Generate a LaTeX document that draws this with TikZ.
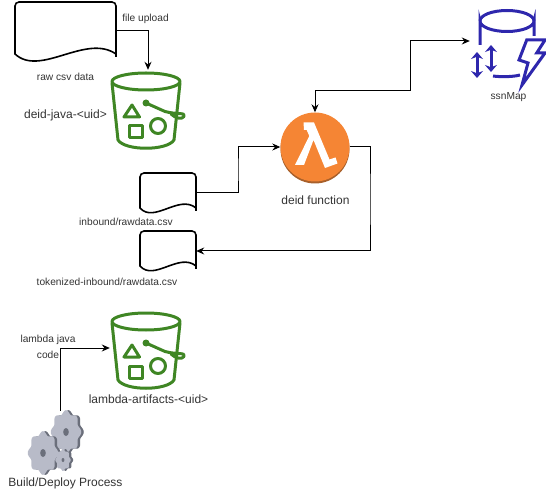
\documentclass[tikz,border=0pt]{standalone}
\usepackage{xcolor}
\usepackage{fontspec}
\setmainfont{Liberation Sans}
\usetikzlibrary{arrows.meta, positioning, calc}
\definecolor{bucketgreen}{HTML}{3F8624}
\definecolor{lambdaorange}{HTML}{F58534}
\definecolor{lambdashade}{HTML}{A8602B}
\definecolor{dynablue}{HTML}{2E27AD}
\definecolor{gearbody}{HTML}{B8BBC8}
\definecolor{gearedge}{HTML}{6B6F7B}
\definecolor{labelgray}{HTML}{333333}
\tikzset{
  iconbox/.style={rectangle, inner sep=0pt},
  flowline/.style={draw=black, line width=1pt, -{Stealth[length=8pt,width=7pt]}},
  sheetline/.style={draw=black, line width=1.6pt, fill=white, rounded corners=4pt},
  bucketline/.style={draw=bucketgreen, line width=3pt, line cap=round, line join=round},
  dynaline/.style={draw=dynablue, line width=3pt},
  smalltext/.style={text=labelgray, font=\fontsize{10.2}{12}\selectfont},
  bigtext/.style={text=labelgray, font=\fontsize{12}{14}\selectfont}
}
% left, top, width, height of a sheet
\newcommand{\drawsheet}[4]{%
  \pgfmathsetmacro{\sheetr}{#1+#3}
  \pgfmathsetmacro{\sheetb}{#2+#4}
  \pgfmathsetmacro{\sheetbb}{#2+#4-1}
  \pgfmathsetmacro{\sheeta}{#1+#3*0.25}
  \pgfmathsetmacro{\sheetc}{#1+#3*0.7}
  \pgfmathsetmacro{\sheetdn}{#2+#4*1.45}
  \pgfmathsetmacro{\sheetup}{#2+#4*0.6}
  \path[sheetline] (#1,\sheetb) -- (#1,#2) -- (\sheetr,#2) -- (\sheetr,\sheetbb) [sharp corners] -- (\sheetr,\sheetb)
    .. controls (\sheetc,\sheetup) and (\sheeta,\sheetdn) .. (#1,\sheetb) -- cycle;
}
\begin{document}
\begin{tikzpicture}[x=1pt, y=-1pt]
    \useasboundingbox (0,0) rectangle (546,494);
    % Nodes that hold the icons
    \node[iconbox, minimum width=101pt, minimum height=60pt] (rawcsv) at (65.5,31) {};
    \node[iconbox, minimum width=76pt, minimum height=76pt] (deidbucket) at (148,108) {};
    \node[iconbox, minimum width=76pt, minimum height=76pt] (artifactbucket) at (148,348) {};
    \node[iconbox, minimum width=56pt, minimum height=40pt] (inbound) at (168,193) {};
    \node[iconbox, minimum width=56pt, minimum height=40pt] (tokenized) at (168,251) {};
    \node[iconbox, minimum width=76pt, minimum height=40pt] (ssnmap) at (508,41) {};
    \node[iconbox, minimum width=60pt, minimum height=72pt] (gears) at (60,447) {};
    % Sheets
    \drawsheet{15}{2}{101}{52}
    \drawsheet{140}{173}{56}{35}
    \drawsheet{140}{231}{56}{35}
    % Buckets
    \foreach \by in {0,240} {
      \begin{scope}[shift={(0,\by)}]
        \draw[bucketline] (146,81.5) ellipse (34 and 8.5);
        \draw[bucketline] (112,83) -- (118,140) .. controls (125,151) and (167,151) .. (174,140) -- (180,83);
        \fill[bucketgreen] (146,103) circle (3.5);
        \draw[bucketline] (146,103) -- (165,111.5) .. controls (178,115) and (186,112) .. (184,116.5)
          .. controls (182,120) and (175,118) .. (171,114);
        \draw[bucketline] (132,105) -- (124,117) -- (139.5,117) -- cycle;
        \draw[bucketline] (129,126) rectangle (142,138);
        \draw[bucketline] (158,126) circle (7.5);
      \end{scope}
    }
    % Lambda
    \fill[lambdashade] (315,149) circle (34.5);
    \node[circle, fill=lambdaorange, inner sep=0pt, minimum size=69pt] (deidfn) at (315,147) {};
    \fill[white] (303.5,122.5) -- (314,122.5) -- (329.5,159.5) -- (335.5,157.5) -- (337.5,163.5)
      -- (325,168) -- (313.5,140) -- (304,165) -- (295,165) -- (309.3,136) -- (306.7,130) -- (304,130) -- cycle;
    % ssnMap icon
    \draw[dynaline] (480,45) -- (480,21) arc[start angle=180, end angle=0, x radius=27, y radius=10.5]
      -- (534,36);
    \draw[dynaline] (480,21) arc[start angle=180, end angle=360, x radius=27, y radius=10.5];
    \draw[dynaline] (493,76) .. controls (500,77) and (513,77) .. (520,75);
    \foreach \ax/\atop/\abot in {477/52/78,491/45/72} {
      \draw[dynaline, {Stealth[length=7pt,width=12pt]}-{Stealth[length=7pt,width=12pt]}] (\ax,\atop) -- (\ax,\abot);
    }
    \draw[dynaline, line join=miter] (526.7,40) -- (545,40) -- (536.7,53) -- (545,53) -- (522,85) -- (528,63) -- (519,60) -- cycle;
    % Gears
    \foreach \gx/\gy/\grx/\gry in {66/432/14/20,43/453/14/20,63/460/7/10} {
      \fill[gearedge] plot[domain=0:360, samples=120, smooth cycle]
        ({\gx+2.5+\grx*(1+0.09*cos(8*\x))*cos(\x)},{\gy+\gry*(1+0.09*cos(8*\x))*sin(\x)});
      \fill[gearbody] plot[domain=0:360, samples=120, smooth cycle]
        ({\gx+\grx*(1+0.09*cos(8*\x))*cos(\x)},{\gy+\gry*(1+0.09*cos(8*\x))*sin(\x)});
      \fill[gearedge] (\gx,\gy) ellipse ({\grx*0.2} and {\gry*0.2});
    }
    % Connectors
    \coordinate (mapbend) at (410,91);
    \coordinate (outbend) at (370,200);
    \coordinate (inbend) at (238,170);
    \draw[flowline] (rawcsv.east) -| (deidbucket.north);
    \draw[flowline] (inbound.east) -| (inbend) |- (deidfn.west);
    \draw[flowline] (deidfn.east) -| (outbend) |- (tokenized.east);
    \draw[flowline, {Stealth[length=8pt,width=7pt]}-{Stealth[length=8pt,width=7pt]}] (deidfn.north) |- (mapbend) |- (ssnmap.west);
    \draw[flowline] (gears.north) |- (artifactbucket.west);
    % Labels
    \node[smalltext] (uploadlabel) at (145.5,19) {file upload};
    \node[smalltext] (rawlabel) at (65.5,77) {raw csv data};
    \node[bigtext] (deidlabel) at (65.5,115.5) {deid-java-<uid>};
    \node[smalltext] (maplabel) at (508.5,97) {ssnMap};
    \node[bigtext] (fnlabel) at (315.5,200.5) {deid function};
    \node[smalltext] (inboundlabel) at (126,222) {inbound/rawdata.csv};
    \node[smalltext] (tokenlabel) at (107,282) {tokenized-inbound/rawdata.csv};
    \node[smalltext, align=center, font=\fontsize{10.2}{16}\selectfont] (codelabel) at (48,347) {lambda java\\code};
    \node[bigtext] (artifactlabel) at (148.5,399) {lambda-artifacts-<uid>};
    \node[bigtext] (buildlabel) at (65.5,483) {Build/Deploy Process};
\end{tikzpicture}
\end{document}
